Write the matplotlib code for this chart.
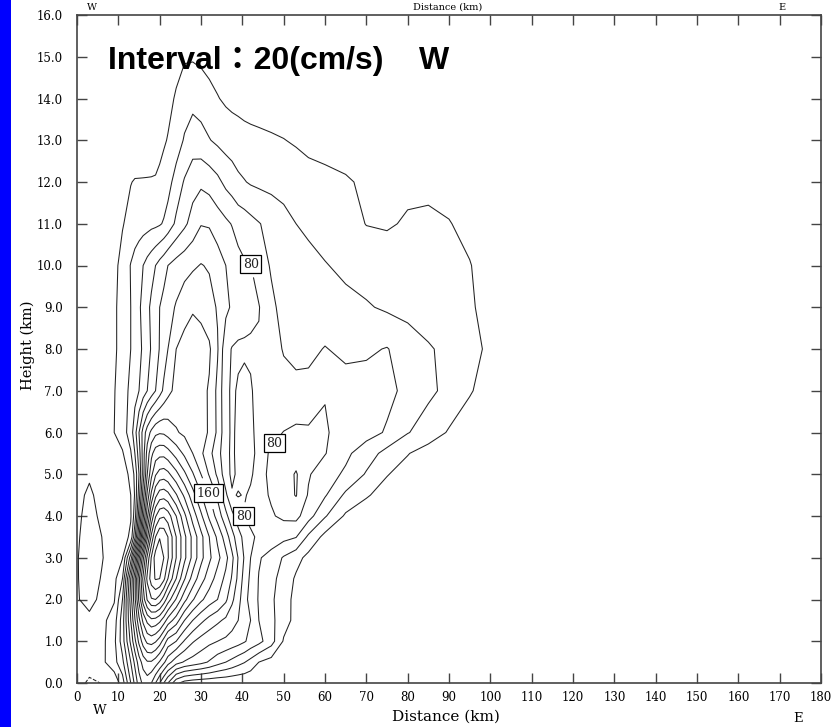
import numpy as np
import matplotlib
matplotlib.use("Agg")
import matplotlib.pyplot as plt
from matplotlib.patches import Rectangle

# grid of the W field (cm/s)
dist_km = [0, 3, 6, 9, 11, 13, 14, 15, 16, 17, 18, 19, 20, 21, 22, 24, 26, 28, 30, 32, 34,
           36, 37.5, 39, 40.5, 42, 44, 47, 50, 53, 56, 60, 65, 70, 75, 80, 85, 90, 95, 100, 105]
height_km = [0, 0.5, 1, 1.5, 2, 2.5, 3, 3.5, 4, 4.5, 5, 5.5, 6, 7, 8, 9, 10, 11, 12, 13, 14, 15, 16]

w_rows = [
    # z = 0
    [-8, -26, -19, 5, 30, 80, 105, 130, 145, 150, 140, 120, 100, 80, 60, 25, 12, 8, 6, 5, 4,
     4, 3, 3, 3, 2, 2, 2, 1, 1, 1, 0, 0, 0, 0, 0, 0, 0, 0, 0, 0],
    # z = 0.5
    [-2, -4, 15, 33, 55, 100, 125, 150, 168, 178, 178, 170, 158, 144, 128, 108, 98, 92, 86, 78, 68,
     60, 54, 47, 41, 33, 20, 12, 8, 6, 4, 3, 2, 1, 1, 0, 0, 0, 0, 0, 0],
    # z = 1
    [0, 4, 14, 35, 70, 125, 155, 185, 210, 225, 228, 222, 210, 192, 172, 160, 138, 122, 112, 105, 100,
     96, 92, 88, 82, 74, 66, 48, 18, 10, 6, 4, 3, 2, 1, 1, 0, 0, 0, 0, 0],
    # z = 1.5
    [12, 17, 14, 30, 70, 140, 178, 215, 245, 265, 275, 273, 265, 250, 232, 210, 180, 160, 145, 133, 124,
     116, 108, 100, 90, 80, 60, 45, 28, 14, 9, 6, 4, 3, 2, 1, 1, 0, 0, 0, 0],
    # z = 2
    [19, 24, 17, 18, 60, 150, 195, 245, 290, 322, 338, 340, 330, 312, 290, 258, 226, 202, 184, 170, 160,
     144, 124, 108, 86, 74, 58, 43, 30, 13, 8, 5, 4, 3, 2, 1, 1, 0, 0, 0, 0],
    # z = 2.5
    [19, 27, 19, 14, 40, 140, 195, 255, 305, 345, 370, 382, 380, 365, 340, 300, 262, 232, 208, 190, 172,
     155, 138, 115, 92, 76, 59, 45, 33, 17, 10, 6, 4, 3, 2, 1, 1, 0, 0, 0, 0],
    # z = 3
    [19, 28, 21, 12, 19, 90, 150, 215, 275, 325, 362, 390, 400, 380, 362, 320, 285, 254, 226, 204, 186,
     166, 145, 119, 98, 80, 62, 52, 38, 27, 14, 9, 6, 4, 3, 2, 1, 0, 0, 0, 0],
    # z = 3.5
    [18, 27, 20, 10, 8, 25, 75, 140, 210, 275, 325, 360, 378, 375, 360, 320, 285, 254, 226, 200, 176,
     150, 128, 108, 94, 84, 76, 72, 66, 61, 36, 14, 8, 5, 3, 2, 1, 0, 0, 0, 0],
    # z = 4
    [17, 25, 17, 8, 8, 18, 50, 110, 175, 235, 285, 318, 335, 338, 330, 300, 265, 232, 204, 176, 152,
     126, 106, 90, 79, 74, 72, 78, 84, 86, 68, 42, 17, 9, 5, 3, 2, 1, 0, 0, 0],
    # z = 4.5
    [17, 22, 16, 7, 8, 20, 42, 90, 150, 205, 245, 275, 290, 292, 286, 262, 236, 208, 182, 160, 136,
     104, 82, 79, 81, 78, 74, 82, 92, 101, 78, 62, 36, 22, 12, 6, 3, 2, 1, 0, 0],
    # z = 5
    [13, 18.5, 13, 8, 10, 25, 45, 80, 130, 180, 215, 238, 248, 250, 245, 226, 204, 182, 160, 138, 116,
     88, 76, 84, 88, 82, 74, 84, 90, 102, 82, 68, 57, 38, 21, 12, 6, 3, 1, 0, 0],
    # z = 5.5
    [8, 12, 10, 12, 18, 38, 60, 90, 130, 168, 195, 210, 214, 214, 208, 192, 176, 160, 144, 126, 108,
     86, 76, 86, 90, 86, 74, 82, 86, 90, 88, 81, 64, 50, 33, 21, 11, 5, 2, 0, 0],
    # z = 6
    [4, 8, 12, 20, 30, 50, 72, 100, 128, 150, 165, 175, 178, 177, 172, 162, 156, 152, 147, 138, 116,
     86, 77, 84, 90, 84, 74, 75, 80.5, 84, 83, 82, 72, 67, 58, 41, 31, 18, 8, 2, 0],
    # z = 7
    [0, 3, 9, 19, 30, 45, 52, 60, 70, 80, 90, 100, 112, 124, 134, 146, 152, 152, 146, 138, 115,
     85, 77, 82, 86, 82, 73, 68, 65, 64, 66, 79, 69, 68, 65, 55, 44, 35, 22, 10, 0],
    # z = 8
    [0, 3, 8, 17, 27, 40, 47, 55, 63, 72, 82, 92, 101, 110, 120, 140, 148, 150, 148, 143, 122,
     86, 79, 77, 77, 77, 78, 66, 59, 56, 55, 61, 55, 57, 61, 50, 42, 35, 28, 15, 0],
    # z = 9
    [0, 3, 8, 17, 27, 40, 48, 57, 66, 75, 84, 92, 100, 106, 112, 122, 131, 138, 135, 128, 118,
     105, 97, 91, 88, 85, 81, 64, 54, 51, 49, 47, 45, 42, 37, 34, 30, 27, 23, 12, 0],
    # z = 10
    [0, 3, 8, 16, 25, 41, 48, 54, 60, 67, 73, 80, 87, 93, 100, 108, 113, 117, 121, 118, 110,
     100, 93, 86, 82, 80.5, 70, 58, 53, 49, 46, 41, 36, 31, 30, 30, 28, 25, 21, 10, 0],
    # z = 11
    [0, 3, 7, 13, 19, 25, 28, 30, 32, 33, 35, 36, 38, 42, 48, 64, 76, 88, 99, 98, 90,
     84, 79, 73, 70, 66, 61, 54, 47, 40, 36, 32, 27, 19.5, 18, 22, 24, 21, 14, 5, 0],
    # z = 12
    [0, 3, 6, 10, 15, 19.5, 21, 21, 21, 21, 21, 21, 23, 27, 33, 48, 62, 72, 76, 72, 65,
     55, 50, 44, 41, 38, 36, 34, 32, 30, 27, 25, 22, 17, 14, 16, 15, 12, 8, 3, 0],
    # z = 13
    [0, 2, 3, 5, 6, 8, 9, 10, 11, 12, 13, 15, 16, 18, 21, 30, 42, 50, 47, 41, 36,
     32, 30, 28, 26, 25, 24, 22.5, 20.5, 18, 15, 13, 11, 9, 8, 8, 7, 5, 3, 1, 0],
    # z = 14
    [0, 1, 2, 3, 4, 5, 5, 6, 6, 7, 8, 9, 10, 12, 15, 22, 30, 34, 31, 26, 21,
     17, 15, 14, 13, 12, 11, 9, 9, 8, 7, 6, 5, 4, 3, 3, 2, 2, 1, 0, 0],
    # z = 15
    [0, 0, 0, 1, 2, 3, 3, 3, 4, 4, 5, 6, 7, 9, 10, 14, 18, 18, 16, 13, 11,
     9, 8, 7, 6, 5, 4, 3, 3, 2, 2, 1, 1, 0, 0, 0, 0, 0, 0, 0, 0],
    # z = 16
    [0, 0, 0, 0, 0, 0, 0, 1, 1, 1, 2, 2, 2, 3, 3, 4, 5, 5, 4, 4, 3,
     3, 2, 2, 2, 1, 1, 1, 0, 0, 0, 0, 0, 0, 0, 0, 0, 0, 0, 0, 0],
]

levels = [-20] + list(range(20, 420, 20))
label_levels = [80, 160]
label_spots = [(42.9, 10.1), (32.4, 4.62), (39.2, 3.94), (48.9, 5.48)]
x_ticks = list(range(0, 181, 10))
y_ticks = list(range(0, 17))

W = np.array(w_rows, dtype=float)

fig = plt.figure(figsize=(8.36, 7.27), dpi=100)
fig.patch.set_facecolor("white")
fig.patches.append(Rectangle((0, 0), 11 / 836, 1, transform=fig.transFigure,
                             facecolor="#0000ff", edgecolor="none"))

ax = fig.add_axes([77 / 836, 1 - 683 / 727, (821 - 77) / 836, (683 - 15) / 727])
plain = [v for v in levels if v not in label_levels]
ax.contour(dist_km, height_km, W, levels=plain, colors="#222222", linewidths=0.75)
cs_lab = ax.contour(dist_km, height_km, W, levels=label_levels, colors="#222222", linewidths=0.75)

lbls = ax.clabel(cs_lab, manual=label_spots, fmt="%d", fontsize=9,
                 inline=True, inline_spacing=6)
for t in lbls:
    t.set_rotation(0)
    t.set_family("DejaVu Serif")
    t.set_bbox(dict(boxstyle="square,pad=0.2", facecolor="white", edgecolor="black", linewidth=0.9))

ax.set_xlim(0, 180)
ax.set_ylim(0, 16)
ax.set_xticks(x_ticks)
ax.set_xticklabels([str(v) for v in x_ticks], family="DejaVu Serif", fontsize=8.5)
ax.set_yticks(y_ticks)
ax.set_yticklabels(["%.1f" % v for v in y_ticks], family="DejaVu Serif", fontsize=8.5)
ax.tick_params(direction="in", length=7, width=1, top=True, right=True, color="#444444")
ax.tick_params(axis="x", pad=6)
ax.tick_params(axis="y", pad=10)
for s in ax.spines.values():
    s.set_linewidth(1.2)
    s.set_color("#444444")

fig.text(28 / 836, 1 - 345 / 727, "Height (km)", family="DejaVu Serif", fontsize=10.5,
         rotation=90, ha="center", va="center")
fig.text(446 / 836, 1 - 717 / 727, "Distance (km)", family="DejaVu Serif", fontsize=11,
         ha="center", va="center")
fig.text(100 / 836, 1 - 711 / 727, "W", family="DejaVu Serif", fontsize=9.5, ha="center", va="center")
fig.text(798 / 836, 1 - 718 / 727, "E", family="DejaVu Serif", fontsize=9.5, ha="center", va="center")

# labels of the top axis, squeezed into the strip above the frame
fig.text(448 / 836, 1 - 10 / 727, "Distance (km)", family="DejaVu Serif", fontsize=7,
         ha="center", va="baseline")
fig.text(92 / 836, 1 - 10 / 727, "W", family="DejaVu Serif", fontsize=7, ha="center", va="baseline")
fig.text(782 / 836, 1 - 10 / 727, "E", family="DejaVu Serif", fontsize=7, ha="center", va="baseline")

fig.text(108 / 836, 1 - 69 / 727, "Interval：20(cm/s)    W",
         family=["Liberation Sans", "Noto Sans CJK JP"], fontweight="bold", fontsize=23,
         ha="left", va="baseline")

fig.savefig("out.png", dpi=100)
